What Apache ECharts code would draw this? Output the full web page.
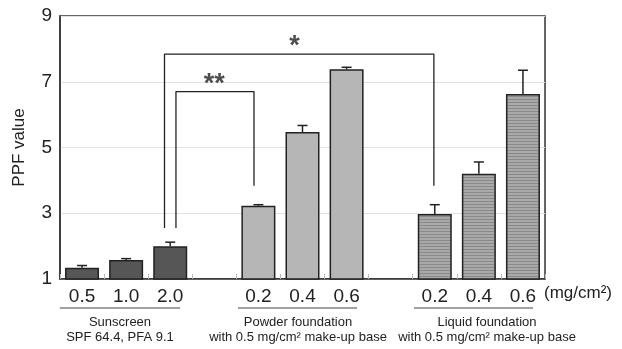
<!DOCTYPE html>
<html>
<head>
<meta charset="utf-8">
<script src="https://cdn.jsdelivr.net/npm/echarts@6/dist/echarts.min.js"></script>
<style>
  html, body { margin: 0; padding: 0; background: #fff; }
  #chart { width: 622px; height: 349px; }
</style>
</head>
<body>
<div id="chart"></div>
<script>
// categories (empty slots are the gaps between groups)
const doses = ['0.5', '1.0', '2.0', '', '0.2', '0.4', '0.6', '', '0.2', '0.4', '0.6']
const yTicks = [1, 3, 5, 7, 9]

// PPF values and upper error (SD)
const sunscreen = [1.34, 1.58, 2.0]
const sunscreenErr = [0.07, 0.04, 0.12]
const powder = [3.23, 5.47, 7.38]
const powderErr = [0.03, 0.2, 0.06]
const liquid = [2.98, 4.2, 6.63]
const liquidErr = [0.28, 0.36, 0.72]

// significance brackets: [x (slot index), y (PPF)]
const bracketStar2 = [[2.13, 2.55], [2.13, 6.7], [3.9, 6.7], [3.9, 3.84]]
const bracketStar1 = [[1.87, 2.55], [1.87, 7.84], [7.98, 7.84], [7.98, 3.84]]
const stars = [[3.0, 6.93, '**'], [4.82, 8.07, '*']]

const groupNames = [
  ['Sunscreen', 'SPF 64.4, PFA 9.1'],
  ['Powder foundation', 'with 0.5 mg/cm² make-up base'],
  ['Liquid foundation', 'with 0.5 mg/cm² make-up base']
]

// horizontal stripe pattern for liquid foundation
const stripe = document.createElement('canvas')
stripe.width = 4
stripe.height = 3
const sctx = stripe.getContext('2d')
sctx.fillStyle = '#a9a9a9'
sctx.fillRect(0, 0, 4, 3)
sctx.fillStyle = '#8a8a8a'
sctx.fillRect(0, 0, 4, 1)

const pad = (arr, start) => doses.map((_, i) => (i >= start && i < start + arr.length) ? arr[i - start] : '-')

const barStyle = (color) => ({ color: color, borderColor: '#222', borderWidth: 1.5 })

const errData = []
;[[sunscreen, sunscreenErr, 0], [powder, powderErr, 4], [liquid, liquidErr, 8]].forEach(([v, e, s]) => {
  v.forEach((val, i) => errData.push([s + i, val, val + e[i]]))
})

const chart = echarts.init(document.getElementById('chart'))

const font = 'Liberation Sans, Arial, sans-serif'

const graphic = []
const groupX = [120, 298, 487]
const lineX = [[60, 180], [238, 357], [414, 533]]
groupNames.forEach((g, i) => {
  graphic.push({
    type: 'line', shape: { x1: lineX[i][0], y1: 308, x2: lineX[i][1], y2: 308 },
    style: { stroke: '#444', lineWidth: 1.2 }
  })
  graphic.push({
    type: 'text', x: groupX[i], y: 316,
    style: { text: g[0], font: '13px ' + font, fill: '#222', align: 'center' }
  })
  graphic.push({
    type: 'text', x: groupX[i], y: 331,
    style: { text: g[1], font: '13px ' + font, fill: '#222', align: 'center' }
  })
})
graphic.push({
  type: 'text', x: 544, y: 285,
  style: { text: '(mg/cm²)', font: '17px ' + font, fill: '#222' }
})

chart.setOption({
  animation: false,
  grid: { left: 60, right: 77, top: 16, bottom: 70, show: true, borderColor: '#333', borderWidth: 1.5 },
  xAxis: [
    {
      type: 'category',
      data: doses,
      axisLine: { lineStyle: { color: '#333', width: 1.5 } },
      axisTick: { show: true, inside: true, length: 5, lineStyle: { color: '#bbb' } },
      axisLabel: { color: '#222', fontSize: 19, fontFamily: font, margin: 8 }
    },
    {
      type: 'value', min: -0.5, max: 10.5, show: false
    }
  ],
  yAxis: {
    type: 'value',
    min: 1, max: 9, interval: 2,
    name: 'PPF value',
    nameLocation: 'middle',
    nameGap: 32,
    nameTextStyle: { color: '#222', fontSize: 17, fontFamily: font },
    axisLine: { show: true, onZero: false, lineStyle: { color: '#333', width: 1.5 } },
    axisTick: { show: false },
    axisLabel: { color: '#222', fontSize: 19, fontFamily: font, margin: 8 },
    splitLine: { lineStyle: { color: '#e2e2e2' } }
  },
  series: [
    { type: 'bar', data: pad(sunscreen, 0), barWidth: 34, barGap: '-100%', itemStyle: barStyle('#565656') },
    { type: 'bar', data: pad(powder, 4), barWidth: 34, barGap: '-100%', itemStyle: barStyle('#b6b6b6') },
    { type: 'bar', data: pad(liquid, 8), barWidth: 34, barGap: '-100%', itemStyle: barStyle({ image: stripe, repeat: 'repeat' }) },
    {
      type: 'custom',
      data: errData,
      z: 5,
      renderItem: (params, api) => {
        const base = api.coord([api.value(0), api.value(1)])
        const top = api.coord([api.value(0), api.value(2)])
        const st = { stroke: '#222', lineWidth: 1.5 }
        return {
          type: 'group',
          children: [
            { type: 'line', shape: { x1: base[0], y1: base[1], x2: top[0], y2: top[1] }, style: st },
            { type: 'line', shape: { x1: top[0] - 5, y1: top[1], x2: top[0] + 5, y2: top[1] }, style: st }
          ]
        }
      }
    },
    {
      type: 'line', xAxisIndex: 1, data: bracketStar2, symbol: 'none',
      lineStyle: { color: '#222', width: 1.3 }
    },
    {
      type: 'line', xAxisIndex: 1, data: bracketStar1, symbol: 'none',
      lineStyle: { color: '#222', width: 1.3 }
    },
    {
      type: 'scatter', xAxisIndex: 1, data: stars, symbolSize: 0,
      label: {
        show: true, position: 'inside', formatter: (p) => p.value[2],
        fontSize: 27, fontWeight: 'bold', color: '#222', fontFamily: font
      }
    }
  ],
  graphic: graphic
})
</script>
</body>
</html>
